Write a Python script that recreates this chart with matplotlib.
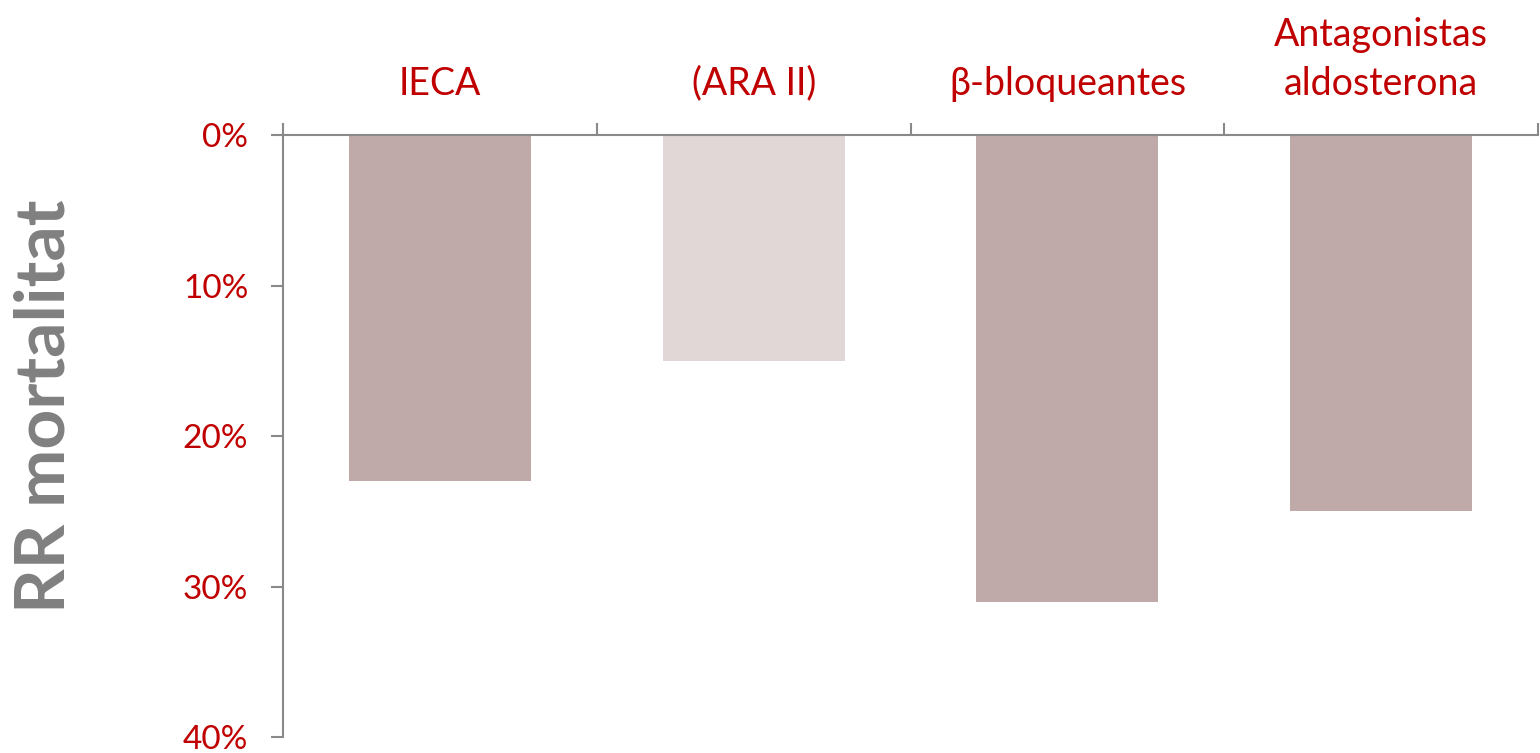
import matplotlib.pyplot as plt
from matplotlib.ticker import FuncFormatter

# Relative risk reduction in mortality per drug group
categories = ['IECA', '(ARA II)', 'β-bloqueantes', 'Antagonistas\naldosterona']
values = [23, 15, 31, 25]
bar_colors = ['#C0AAA9', '#E1D7D6', '#C0AAA9', '#C0AAA9']

red = '#C00000'
gray = '#898989'

plt.rcParams['font.family'] = ['Lato', 'DejaVu Sans']

fig = plt.figure(figsize=(15.4, 7.53), dpi=100)
ax = fig.add_axes([0.1838, 0.0212, 0.815, 0.7995])

x = range(len(categories))
ax.bar(x, values, width=0.58, color=bar_colors, edgecolor='none')

ax.set_xlim(-0.5, len(categories) - 0.5)
ax.set_ylim(40, 0)
ax.set_yticks([0, 10, 20, 30, 40])
ax.yaxis.set_major_formatter(FuncFormatter(lambda v, p: f'{v:.0f}%'))

# category boundaries as tick marks, names centered between them
ax.xaxis.tick_top()
ax.set_xticks([i - 0.5 for i in range(len(categories) + 1)])
ax.set_xticklabels([])
ax.set_xticks(list(x), minor=True)
ax.set_xticklabels(categories, minor=True, color=red, fontsize=27,
                   linespacing=1.45)
ax.tick_params(axis='x', which='major', direction='out', length=9,
               width=1.5, color=gray)
ax.tick_params(axis='x', which='minor', length=0, pad=24)
ax.tick_params(axis='y', direction='out', length=9, width=1.5, color=gray,
               labelcolor=red, labelsize=24, pad=16)

for side in ['right', 'bottom']:
    ax.spines[side].set_visible(False)
for side in ['left', 'top']:
    ax.spines[side].set_color(gray)
    ax.spines[side].set_linewidth(1.5)

fig.text(0.029, 0.46, 'RR mortalitat', rotation=90, ha='center', va='center',
         fontsize=50, fontweight='bold', color='#808080')

fig.savefig('out.png', dpi=100)
